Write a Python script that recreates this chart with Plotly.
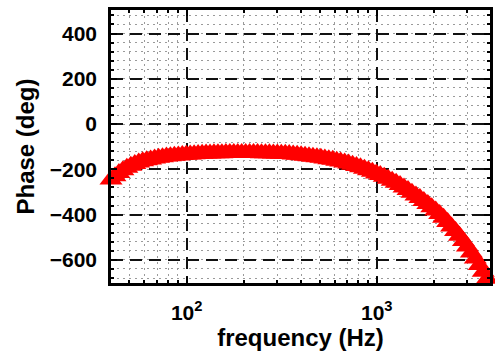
import plotly.graph_objects as go

# frequency (Hz) and phase (deg)
freq_hz = [40.0, 41.97, 44.03, 46.19, 48.46, 50.84, 53.34, 55.96, 58.71, 61.60,
           64.62, 67.80, 71.13, 74.63, 78.29, 82.14, 86.18, 90.41, 94.86, 99.52,
           104.4, 109.5, 114.9, 120.6, 126.5, 132.7, 139.2, 146.1, 153.2, 160.8,
           168.7, 177.0, 185.7, 194.8, 204.4, 214.4, 224.9, 236.0, 247.6, 259.8,
           272.5, 285.9, 300.0, 314.7, 330.2, 346.4, 363.4, 381.3, 400.0, 419.7,
           440.3, 461.9, 484.6, 508.4, 533.4, 559.6, 587.1, 616.0, 646.2, 678.0,
           711.3, 746.3, 782.9, 821.4, 861.8, 904.1, 948.6, 995.2, 1044, 1095,
           1149, 1206, 1265, 1327, 1392, 1461, 1532, 1608, 1687, 1770,
           1857, 1948, 2044, 2144, 2249, 2360, 2476, 2598, 2725, 2859,
           3000, 3147, 3302, 3464, 3634, 3813]
phase_deg = [-245, -230, -216, -204, -193, -184, -176, -170, -164, -160,
             -156, -152, -149, -146, -143.5, -142, -140, -138.5, -137, -135,
             -134, -133, -132, -131, -130.4, -130, -129.3, -128.7, -128.3, -128,
             -127.8, -127.5, -127.5, -127.5, -127.6, -127.8, -128, -128.2, -128.4, -128.8,
             -129.2, -129.7, -130.3, -130.9, -131.5, -132.3, -133.9, -135.5, -137.2, -139.5,
             -141.8, -144, -146.3, -149, -151.9, -154.9, -157.8, -161.8, -165.8, -169.8,
             -174, -179.5, -185, -191, -197, -204, -211, -218, -225, -233,
             -242, -250, -259, -269, -280, -291, -303, -315, -327, -340,
             -353, -367, -382, -397, -414, -433, -452, -472, -493, -516,
             -541, -567, -594, -622, -652, -683]

x_major = [100, 1000]
x_major_text = ["10<sup>2</sup>", "10<sup>3</sup>"]
x_minor = [40, 50, 60, 70, 80, 90, 200, 300, 400, 500, 600, 700, 800, 900,
           2000, 3000, 4000]
y_major = [-600, -400, -200, 0, 200, 400]

font_family = "Arial, Liberation Sans, Helvetica, sans-serif"
tick_font = dict(family=font_family, size=21, color="black", weight="bold")
title_font = dict(family=font_family, size=24, color="black", weight="bold")

fig = go.Figure()
fig.add_trace(go.Scatter(
    x=freq_hz, y=phase_deg, mode="markers",
    marker=dict(symbol="triangle-up", size=20, color="#ff0000",
                line=dict(width=0)),
    cliponaxis=False, showlegend=False,
))

axis_common = dict(
    showline=True, linecolor="black", linewidth=2.5, mirror="allticks",
    ticks="inside", ticklen=6, tickwidth=1.5, tickcolor="black",
    showgrid=True, gridcolor="#111111", gridwidth=1.8, griddash="12px,7px",
    zeroline=False,
    tickfont=tick_font,
)

fig.update_xaxes(
    type="log", range=[1.602, 3.596],
    tickmode="array", tickvals=x_major, ticktext=x_major_text,
    ticklabelstandoff=9,
    minor=dict(tickmode="array", tickvals=x_minor, showgrid=True,
               gridcolor="#9a9a9a", gridwidth=1, griddash="2px,4px",
               ticks="inside", ticklen=3, tickcolor="black"),
    title=dict(text="frequency (Hz)", standoff=2, font=title_font),
    **axis_common,
)
fig.update_yaxes(
    range=[-702, 504],
    tickmode="array", tickvals=y_major,
    ticklabelstandoff=7,
    minor=dict(dtick=40, showgrid=True, gridcolor="#9a9a9a", gridwidth=1,
               griddash="2px,4px", ticks="inside", ticklen=3, tickcolor="black"),
    title=dict(text="Phase (deg)", standoff=9, font=title_font),
    **axis_common,
)

fig.update_layout(
    width=495, height=353,
    margin=dict(l=111, r=2, t=10, b=70),
    plot_bgcolor="white", paper_bgcolor="white",
    font=dict(family=font_family, color="black"),
)

fig.write_html("out.html")
